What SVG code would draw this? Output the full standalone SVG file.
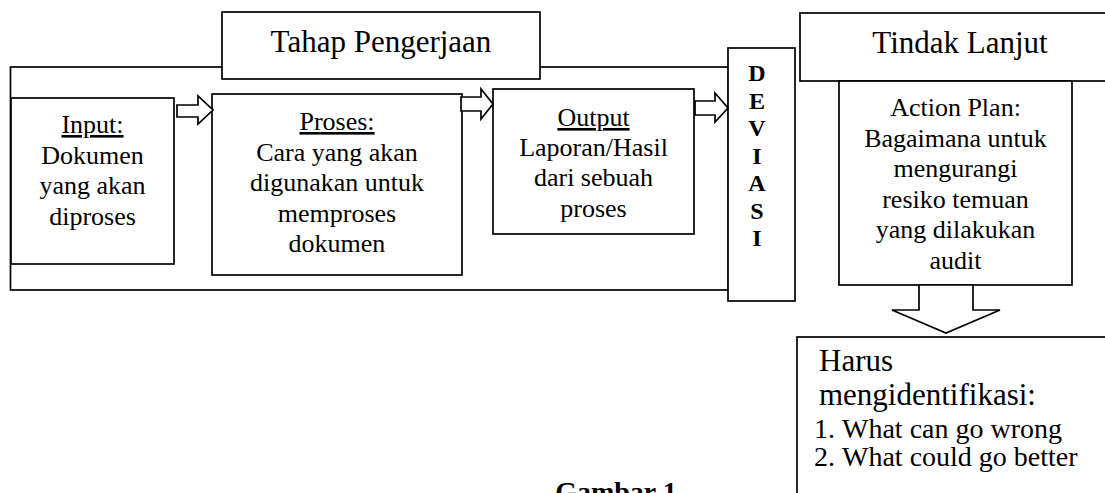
<svg xmlns="http://www.w3.org/2000/svg" width="1105" height="493" viewBox="0 0 1105 493">
<style>
.b{fill:#fff;stroke:#000;stroke-width:1.7}
.o{fill:none;stroke:#000;stroke-width:1.7}
.t{font-family:"Liberation Serif","Times New Roman",serif;fill:#000}
.h{font-size:31px}
.m{font-size:26px;text-anchor:middle}
.u{text-decoration:underline}
.d{font-size:24px;font-weight:bold;text-anchor:middle}
.l{font-size:28px}
</style>
<rect width="1105" height="493" fill="#fff"/>
<g id="frame"><rect class="o" x="10.5" y="67" width="718" height="223"/></g>
<g id="tahap"><rect class="b" x="222" y="12" width="318" height="67"/><text class="t h" x="381" y="52" text-anchor="middle">Tahap Pengerjaan</text></g>
<g id="input"><rect class="b" x="11" y="98" width="163" height="166"/>
<text class="t m"><tspan class="u" x="92.5" y="133">Input:</tspan><tspan x="92.5" y="164">Dokumen</tspan><tspan x="92.5" y="194">yang akan</tspan><tspan x="92.5" y="225">diproses</tspan></text></g>
<g id="proses"><rect class="b" x="212" y="94" width="250" height="181"/>
<text class="t m"><tspan class="u" x="337" y="130">Proses:</tspan><tspan x="337" y="160.5">Cara yang akan</tspan><tspan x="337" y="191">digunakan untuk</tspan><tspan x="337" y="221.5">memproses</tspan><tspan x="337" y="252">dokumen</tspan></text></g>
<g id="output"><rect class="b" x="493" y="89" width="201" height="145"/>
<text class="t m"><tspan class="u" x="593.5" y="126">Output</tspan><tspan x="593.5" y="156">Laporan/Hasil</tspan><tspan x="593.5" y="186">dari sebuah</tspan><tspan x="593.5" y="216.5">proses</tspan></text></g>
<g id="deviasi"><rect class="b" x="728" y="48" width="67" height="253"/>
<text class="t d"><tspan x="757" y="81">D</tspan><tspan x="757" y="108.5">E</tspan><tspan x="757" y="136">V</tspan><tspan x="757" y="163.5">I</tspan><tspan x="757" y="191">A</tspan><tspan x="757" y="218.5">S</tspan><tspan x="757" y="246">I</tspan></text></g>
<g id="tindak"><rect class="b" x="800" y="13" width="330" height="68"/><text class="t h" x="960" y="53" text-anchor="middle">Tindak Lanjut</text></g>
<g id="action"><rect class="b" x="839" y="81" width="233" height="204"/>
<text class="t m"><tspan x="955.5" y="116">Action Plan:</tspan><tspan x="955.5" y="146.5">Bagaimana untuk</tspan><tspan x="955.5" y="177">mengurangi</tspan><tspan x="955.5" y="207.5">resiko temuan</tspan><tspan x="955.5" y="238">yang dilakukan</tspan><tspan x="955.5" y="268.5">audit</tspan></text></g>
<g id="harus"><rect class="b" x="797" y="337" width="330" height="200"/>
<text class="t h"><tspan x="819" y="371">Harus</tspan><tspan x="819" y="405">mengidentifikasi:</tspan></text>
<text class="t l"><tspan x="814" y="438">1.</tspan><tspan x="842" y="438">What can go wrong</tspan><tspan x="814" y="466">2.</tspan><tspan x="842" y="466">What could go better</tspan></text></g>
<g id="connectors">
<polygon class="b" points="177,105 198,105 198,96 213,110 198,124 198,117 177,117"/>
<polygon class="b" points="461,97 481,97 481,89 493,104 481,119 481,111 461,111"/>
<polygon class="b" points="695,101 715,101 715,93 728,108 715,122 715,115 695,115"/>
<polygon class="b" points="919,285 919,310 892,310 946,333 1000,310 973,310 973,285"/>
</g>
<g id="caption"><text class="t" x="616" y="501" text-anchor="middle" font-size="28" font-weight="bold">Gambar 1</text></g>
</svg>
